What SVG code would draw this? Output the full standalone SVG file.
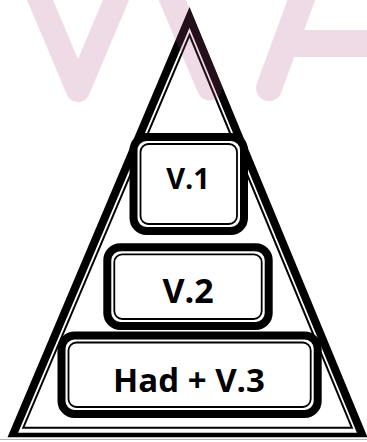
<svg xmlns="http://www.w3.org/2000/svg" width="367" height="442" viewBox="0 0 367 442">
  <style>
    .thick { fill: #ffffff; stroke: #000000; stroke-width: 8; }
    .thin { fill: none; stroke: #000000; stroke-width: 1.8; }
    .lbl { font-family: "Open Sans", "Liberation Sans", sans-serif; font-weight: 700; fill: #000000; text-anchor: middle; }
    .wm { fill: none; stroke: #b25087; stroke-linecap: round; stroke-linejoin: round; }
  </style>
  <rect x="0" y="0" width="367" height="442" fill="#ffffff"/>
  <g id="pyramid">
    <path d="M189.5,7 L367.5,437.3 L7.5,437.3 Z M189.5,27.7 L356.9,432.7 L18.1,432.7 Z" fill="#000000" fill-rule="evenodd"/>
    <polygon points="189.5,35 351.85,427.7 23.27,427.7" fill="none" stroke="#000000" stroke-width="2" stroke-linejoin="miter"/>
  </g>
  <g id="box-v1">
    <rect class="thick" x="133.5" y="137" width="110.5" height="94" rx="13"/>
    <rect class="thin" x="140.5" y="144" width="96.5" height="80" rx="8"/>
    <text class="lbl" x="188" y="189.3" font-size="29">V.1</text>
  </g>
  <g id="box-v2">
    <rect class="thick" x="107.3" y="247.3" width="161.4" height="78.7" rx="13"/>
    <rect class="thin" x="114.3" y="254.3" width="147.4" height="64.7" rx="8"/>
    <text class="lbl" x="188" y="303.3" font-size="34">V.2</text>
  </g>
  <g id="box-v3">
    <rect class="thick" x="61.5" y="335.5" width="256.2" height="78.5" rx="13"/>
    <rect class="thin" x="68.5" y="342.5" width="242.2" height="64.5" rx="8"/>
    <text class="lbl" x="189" y="391.7" font-size="33">Had + V.3</text>
  </g>
  <g id="connectors"></g>
  <g id="watermark" opacity="0.2">
    <polyline class="wm" stroke-width="24" points="35.8,-10 78,90 120.2,-10"/>
    <line class="wm" stroke-width="25" x1="209.5" y1="88" x2="168" y2="-10"/>
    <line class="wm" stroke-width="26" x1="269" y1="88" x2="305" y2="-10"/>
    <line class="wm" stroke-width="27" x1="296" y1="43.5" x2="380" y2="43.5"/>
  </g>
  <line x1="0" y1="439.5" x2="367" y2="439.5" stroke="#b0b0b0" stroke-width="1.2"/>
</svg>
